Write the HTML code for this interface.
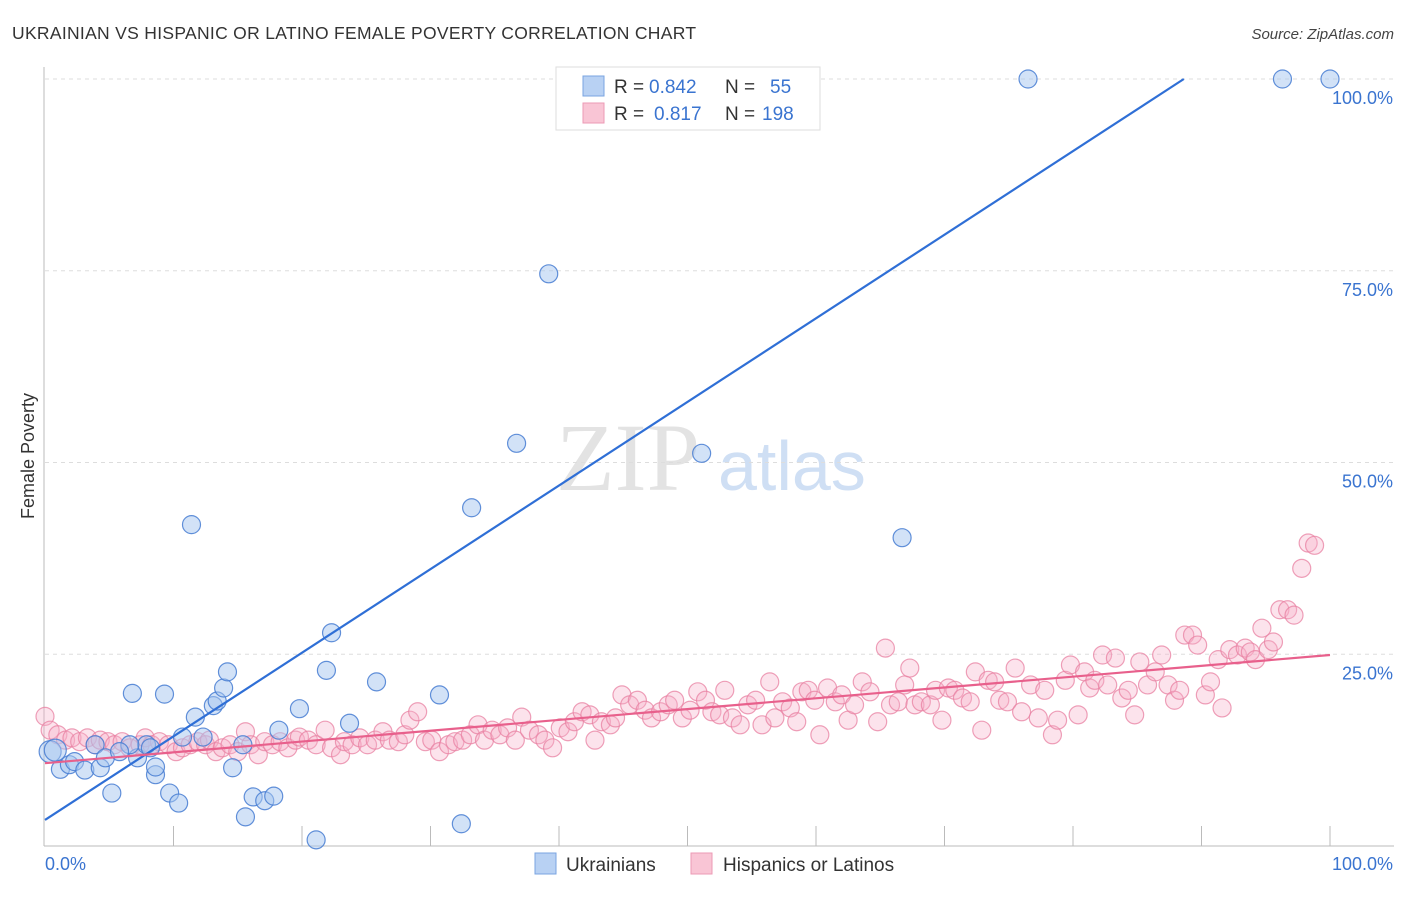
<!DOCTYPE html>
<html><head><meta charset="utf-8"><style>
body{margin:0;background:#fff;width:1406px;height:892px;overflow:hidden;font-family:"Liberation Sans",sans-serif}
</style></head><body>
<svg id="chart" width="1406" height="892" xmlns="http://www.w3.org/2000/svg">
<text x="12" y="39" font-size="17.5" fill="#333" letter-spacing="0.3">UKRAINIAN VS HISPANIC OR LATINO FEMALE POVERTY CORRELATION CHART</text>
<text x="1394" y="39" font-size="15" fill="#444" font-style="italic" text-anchor="end">Source: ZipAtlas.com</text>
<text transform="translate(34,456) rotate(-90)" font-size="18" fill="#333" text-anchor="middle">Female Poverty</text>
<g>
<text x="556" y="490" font-family="Liberation Serif,serif" font-size="96" fill="#e3e3e3">ZIP</text>
<text x="718" y="490" font-size="70" fill="#cfdff4">atlas</text>
</g>
<g id="grid"></g><g id="axes"></g><g id="pink"></g><g id="blue"></g><g id="lines"></g>
<g>
<rect x="556" y="67" width="264" height="63" fill="#fff" stroke="#ddd"/>
<rect x="583" y="76" width="21" height="20" fill="#b8d1f3" stroke="#7aa4e0"/>
<rect x="583" y="103" width="21" height="20" fill="#f9c5d5" stroke="#ec9ab5"/>
<g font-size="19">
<text x="614" y="93" fill="#333">R =</text><text x="649" y="93" fill="#3a74d0">0.842</text>
<text x="725" y="93" fill="#333">N =</text><text x="770" y="93" fill="#3a74d0">55</text>
<text x="614" y="120" fill="#333">R =</text><text x="654" y="120" fill="#3a74d0">0.817</text>
<text x="725" y="120" fill="#333">N =</text><text x="762" y="120" fill="#3a74d0">198</text>
</g>
</g>
<g>
<rect x="535" y="853" width="21" height="21" fill="#b8d1f3" stroke="#7aa4e0"/>
<text x="566" y="871" font-size="19" fill="#333">Ukrainians</text>
<rect x="691" y="853" width="21" height="21" fill="#f9c5d5" stroke="#ec9ab5"/>
<text x="723" y="871" font-size="19" fill="#333">Hispanics or Latinos</text>
</g>
</svg>
<script>
const blueX=[0.4,0.8,1.2,1.9,2.3,3.1,3.9,4.3,4.7,5.2,6.8,7.2,7.9,8.6,8.6,9.3,9.7,10.4,10.7,11.4,11.7,12.3,13.1,13.4,13.9,14.2,14.6,15.4,15.6,16.2,17.1,17.8,18.2,19.8,21.1,21.9,22.3,23.7,25.8,30.7,32.4,33.2,36.7,39.2,51.1,66.7,76.5,96.3,100,49.1,50.2,51,6.6,5.8,8.2];
const blueY=[12.3,12.5,10.0,10.6,11.0,9.9,13.2,10.2,11.5,6.9,19.9,11.5,13.2,9.3,10.3,19.8,6.9,5.6,14.2,41.9,16.8,14.2,18.3,18.9,20.6,22.7,10.2,13.2,3.8,6.4,5.9,6.5,15.1,17.9,0.8,22.9,27.8,16.0,21.4,19.7,2.9,44.1,52.5,74.6,51.2,40.2,100,100,100,99.8,99.8,99.8,13.2,12.3,12.8];
const pinkX=[0.0,0.4,1.0,1.6,2.1,2.7,3.3,3.9,4.3,4.9,5.4,6.0,6.6,7.4,7.8,8.3,8.9,9.6,10.2,10.7,11.3,11.9,12.5,12.8,13.3,13.8,14.4,15.0,15.6,16.0,16.6,17.1,17.7,18.3,18.9,19.5,19.8,20.5,21.1,21.8,22.3,23.0,23.3,23.9,24.5,25.1,25.7,26.3,26.8,27.5,28.0,28.4,29.0,29.6,30.1,30.7,31.4,31.9,32.5,33.1,33.7,34.2,34.8,35.4,36.0,36.6,37.1,37.7,38.4,38.9,39.5,40.1,40.7,41.2,41.8,42.4,42.8,43.3,44.0,44.4,44.9,45.5,46.1,46.7,47.2,47.9,48.5,49.0,49.6,50.2,50.8,51.4,51.9,52.5,52.9,53.5,54.1,54.7,55.3,55.8,56.4,56.8,57.4,58.0,58.5,58.9,59.4,59.9,60.3,60.9,61.5,62.0,62.5,63.0,63.6,64.2,64.8,65.4,65.8,66.4,66.9,67.3,67.7,68.2,68.9,69.3,69.8,70.3,70.8,71.4,72.0,72.4,72.9,73.4,73.9,74.3,74.9,75.5,76.0,76.7,77.3,77.8,78.4,78.8,79.4,79.8,80.4,80.9,81.3,81.7,82.3,82.7,83.3,83.8,84.3,84.8,85.2,85.8,86.4,86.9,87.4,87.9,88.3,88.7,89.3,89.7,90.3,90.7,91.3,91.6,92.2,92.8,93.4,93.8,94.2,94.7,95.2,95.6,96.1,96.7,97.2,97.8,98.3,98.8];
const pinkY=[16.9,15.1,14.5,13.8,14.1,13.6,14.1,13.2,13.8,13.6,13.2,13.6,12.8,13.2,14.1,13.2,13.6,13.2,12.3,12.8,13.2,13.6,13.2,13.8,12.3,12.8,13.2,12.3,14.9,13.2,11.9,13.6,13.2,13.6,12.8,13.8,14.2,13.8,13.2,15.1,12.8,11.9,13.6,13.2,14.1,13.2,13.8,14.9,13.8,13.6,14.5,16.4,17.5,13.6,13.8,12.3,13.2,13.6,13.8,14.5,15.8,13.8,15.1,14.5,15.4,13.8,16.8,15.1,14.5,13.8,12.8,15.4,14.9,16.2,17.5,17.1,13.8,16.2,15.8,16.7,19.7,18.4,19.0,17.7,16.7,17.5,18.4,19.0,16.7,17.7,20.1,19.0,17.5,17.1,20.3,16.7,15.8,18.4,19.0,15.8,21.4,16.7,18.8,18.0,16.2,20.1,20.3,19.0,14.5,20.6,18.8,19.7,16.4,18.4,21.4,20.1,16.2,25.8,18.4,18.8,21.0,23.2,18.4,18.8,18.4,20.3,16.4,20.6,20.3,19.3,18.8,22.7,15.1,21.6,21.4,19.0,18.8,23.2,17.5,21.0,16.7,20.3,14.5,16.4,21.6,23.6,17.1,22.7,20.6,21.6,24.9,21.0,24.5,19.3,20.3,17.1,24.0,21.0,22.7,24.9,21.0,19.0,20.3,27.5,27.5,26.2,19.7,21.4,24.3,18.0,25.6,24.9,25.8,25.3,24.3,28.4,25.6,26.6,30.8,30.8,30.1,36.2,39.5,39.2];
const blueFit=[3.4,1.09];
const pinkFit=[10.8,0.141];
const yTicks=[25,50,75,100];
const xTickCount=10;
const NS="http://www.w3.org/2000/svg";
const X0=45,X1=1330,Y0=846,Y100=79;
const sx=v=>X0+(X1-X0)*v/100, sy=v=>Y0-(Y0-Y100)*v/100;
function mk(t,a,p){const e=document.createElementNS(NS,t);for(const k in a)e.setAttribute(k,a[k]);document.getElementById(p).appendChild(e);return e;}
yTicks.forEach(t=>{
 const l=mk('line',{x1:45,x2:1394,y1:sy(t),y2:sy(t),stroke:'#ddd','stroke-dasharray':'4,4'},'grid');
 
 
 const tx=mk('text',{x:1393,y:sy(t)+25,'font-size':18,fill:'#3a74d0','text-anchor':'end'},'grid');
 tx.textContent=t.toFixed(1)+'%';
 
 
});
const ax=mk('line',{x1:44,x2:1394,y1:846,y2:846,stroke:'#bbb'},'axes');


const ay=mk('line',{x1:44,x2:44,y1:67,y2:846,stroke:'#bbb'},'axes');


for(let i=1;i<=xTickCount;i++){const t=mk('line',{x1:sx(i*10),x2:sx(i*10),y1:826,y2:846,stroke:'#bbb'},'axes');
 
 }
const l0=mk('text',{x:45,y:870,'font-size':18,fill:'#3a74d0'},'axes');l0.textContent='0.0%';


const l1=mk('text',{x:1393,y:870,'font-size':18,fill:'#3a74d0','text-anchor':'end'},'axes');l1.textContent='100.0%';


pinkX.forEach((x,i)=>{const c=mk('circle',{cx:sx(x),cy:sy(pinkY[i]),r:9,fill:'rgba(247,175,200,0.35)',stroke:'rgba(232,128,162,0.75)','stroke-width':1.2},'pink');
 
 });
blueX.forEach((x,i)=>{const c=mk('circle',{cx:sx(x),cy:sy(blueY[i]),r:i<2?11:9,fill:'rgba(165,198,240,0.5)',stroke:'rgba(70,125,210,0.85)','stroke-width':1.2},'blue');
 
 });
const bxEnd=Math.min(100,(100-blueFit[0])/blueFit[1]);
const bl=mk('line',{x1:sx(0),y1:sy(blueFit[0]),x2:sx(bxEnd),y2:sy(blueFit[0]+blueFit[1]*bxEnd),stroke:'#2f6fd6','stroke-width':2.2},'lines');


const pl=mk('line',{x1:sx(0),y1:sy(pinkFit[0]),x2:sx(100),y2:sy(pinkFit[0]+pinkFit[1]*100),stroke:'#e8608c','stroke-width':2.2},'lines');


</script>
</body></html>
